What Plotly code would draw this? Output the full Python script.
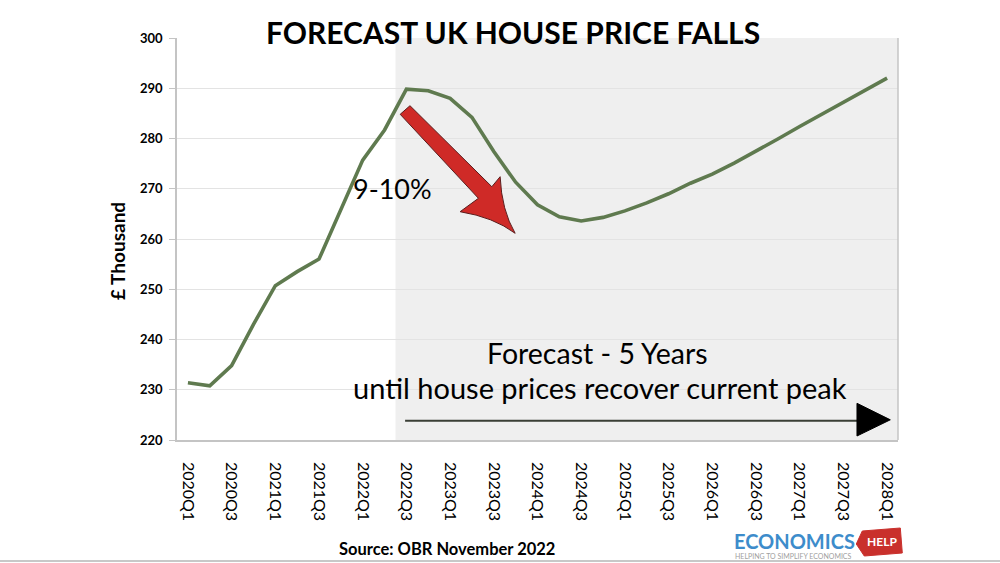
import plotly.graph_objects as go

# ---------------- data ----------------
quarters = [f"{y}Q{q}" for y in range(2020, 2029) for q in range(1, 5)][:33]
prices = [231.4, 230.8, 234.8, 243.0, 250.7, 253.5, 256.0, 266.0, 275.7, 281.7,
          289.8, 289.5, 288.0, 284.2, 277.4, 271.3, 266.8, 264.4, 263.6, 264.3,
          265.6, 267.2, 269.0, 271.1, 272.9, 275.1, 277.4, 279.9, 282.4, 284.8,
          287.3, 289.7, 292.0]
tick_labels = quarters[::2]
y_ticks = [220, 230, 240, 250, 260, 270, 280, 290, 300]

# ---------------- layout helpers (pixel -> paper) ----------------
W, H = 1000, 563
L, R, T, B = 177, 897.7, 38, 440


def px(x):
    return (x - L) / (R - L)


def py(y):
    return (B - y) / (B - T)


FONT = "Lato"
fig = go.Figure()

fig.add_trace(go.Scatter(
    x=quarters, y=prices, mode="lines",
    line=dict(color="#5f7a4f", width=3.6),
    hoverinfo="skip", showlegend=False,
))

shapes = []
# forecast shading
shapes.append(dict(type="rect", xref="x", yref="y", x0=9.5, x1=32.5, y0=220, y1=300,
                   fillcolor="#efefef", line=dict(width=0), layer="below"))
shapes.append(dict(type="line", xref="paper", yref="paper", x0=1, x1=1, y0=0, y1=1,
                   line=dict(color="#c4c4c4", width=1.5)))


def P(x, y):
    return f"{px(x):.5f},{py(y):.5f}"


# red arrow
red_path = (f"M {P(409.9,105.7)} L {P(491.7,186.7)} L {P(500,176.7)} "
            f"Q {P(501.5,210.3)} {P(515,233.3)} Q {P(493.5,217.2)} {P(460,211.7)} "
            f"L {P(478.3,198.3)} L {P(400.1,114.3)} Z")
shapes.append(dict(type="path", xref="paper", yref="paper", path=red_path,
                   fillcolor="#cf2a27", line=dict(color="#5a1c1c", width=1)))

# black arrow
shapes.append(dict(type="line", xref="paper", yref="paper",
                   x0=px(405), x1=px(858), y0=py(420.7), y1=py(420.7),
                   line=dict(color="#3a3f36", width=2)))
tri = f"M {P(856.7,403.3)} L {P(890,419.8)} L {P(856.7,436)} Z"
shapes.append(dict(type="path", xref="paper", yref="paper", path=tri,
                   fillcolor="#000000", line=dict(color="#000000", width=1)))

# logo tag
tag = (f"M {P(862,531)} L {P(900,528)} L {P(902,553)} L {P(864,556)} "
       f"L {P(856,544)} Z")
shapes.append(dict(type="path", xref="paper", yref="paper", path=tag,
                   fillcolor="#c9302c", line=dict(color="#c9302c", width=1)))
# bottom separator
shapes.append(dict(type="line", xref="paper", yref="paper",
                   x0=px(0), x1=px(1000), y0=py(561), y1=py(561),
                   line=dict(color="#c8c8c8", width=2)))

annotations = [
    dict(text="<b>FORECAST UK HOUSE PRICE FALLS</b>", x=px(513), y=py(32),
         font=dict(family=FONT, size=30, color="#000000")),
    dict(text="<b>£ Thousand</b>", x=px(117), y=py(251), textangle=-90,
         font=dict(family=FONT, size=19, color="#000000")),
    dict(text="9-10%", x=px(392), y=py(188),
         font=dict(family=FONT, size=27, color="#000000")),
    dict(text="Forecast - 5 Years", x=px(597), y=py(353),
         font=dict(family=FONT, size=28.5, color="#000000")),
    dict(text="until house prices recover current peak", x=px(600), y=py(387),
         font=dict(family=FONT, size=29, color="#000000")),
    dict(text="<b>Source: OBR November 2022</b>", x=px(447), y=py(549),
         font=dict(family=FONT, size=16.5, color="#000000")),
    dict(text="<b>ECONOMICS</b>", x=px(794), y=py(541),
         font=dict(family=FONT, size=20, color="#3d8ccb")),
    dict(text="<b>HELP</b>", x=px(882), y=py(541),
         font=dict(family=FONT, size=12, color="#ffffff")),
    dict(text="HELPING TO SIMPLIFY ECONOMICS", x=px(793), y=py(556),
         font=dict(family=FONT, size=7, color="#a0a0a0")),
]
for a in annotations:
    a.update(xref="paper", yref="paper", showarrow=False,
             xanchor="center", yanchor="middle")

fig.update_layout(
    width=W, height=H,
    margin=dict(l=L, r=W - R, t=T, b=H - B),
    paper_bgcolor="#ffffff", plot_bgcolor="#ffffff",
    shapes=shapes, annotations=annotations,
    showlegend=False,
    font=dict(family=FONT),
)
fig.update_xaxes(
    type="category", categoryorder="array", categoryarray=quarters,
    range=[-0.5, 32.5], tickmode="array", tickvals=tick_labels, ticktext=tick_labels,
    tickangle=90, tickfont=dict(family=FONT, size=16, color="#000000"),
    showgrid=False, showline=True, linecolor="#c4c4c4", linewidth=1.5,
    ticks="", ticklabelstandoff=17, zeroline=False, fixedrange=True,
)
fig.update_yaxes(
    range=[220, 300], tickmode="array", tickvals=y_ticks,
    tickfont=dict(family=FONT, size=13, color="#000000", weight="bold"),
    showgrid=True, gridcolor="#e3e3e3", gridwidth=1,
    showline=True, linecolor="#c4c4c4", linewidth=1.5,
    ticks="outside", ticklen=6, tickcolor="#c4c4c4", ticklabelstandoff=4,
    zeroline=False, fixedrange=True,
)

fig.write_html(
    "out.html",
    config={"displayModeBar": False},
    post_script="document.body.style.margin='0';document.body.style.overflow='hidden';",
)
